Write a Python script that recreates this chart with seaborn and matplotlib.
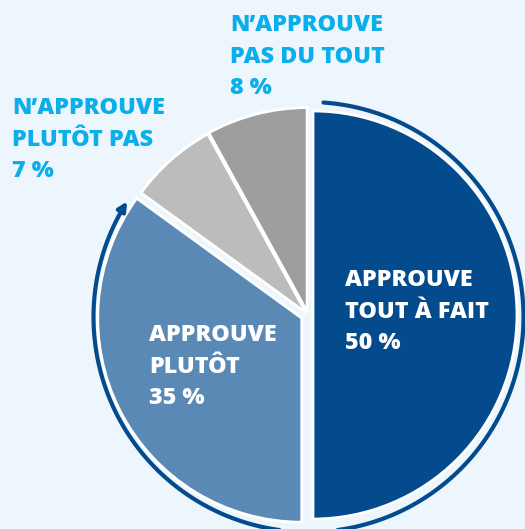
import numpy as np
import matplotlib.pyplot as plt
from matplotlib.path import Path
from matplotlib.patches import FancyArrowPatch
import seaborn as sns

# survey answers, clockwise from 12 o'clock
answers = ["APPROUVE\nTOUT À FAIT", "APPROUVE\nPLUTÔT",
           "N’APPROUVE\nPLUTÔT PAS", "N’APPROUVE\nPAS DU TOUT"]
shares = [50, 35, 7, 8]
slice_colors = ["#034b8c", "#5a89b6", "#bcbcbc", "#9e9e9e"]

BG = "#eef6fd"
DARK = "#034b8c"
CYAN = "#0aaeea"
W, H = 525, 529

sns.set_theme(style="white", rc={"figure.facecolor": BG, "axes.facecolor": BG})
plt.rcParams["font.family"] = ["Open Sans", "DejaVu Sans"]

fig = plt.figure(figsize=(W / 100, H / 100), dpi=100)
ax = fig.add_axes([0, 0, 1, 1])

R = 204
cx, cy = 308, H - 315
# explode is in data units (pixels here)
ax.pie(shares, colors=slice_colors, startangle=90, counterclock=False,
       radius=R, center=(cx, cy), explode=[5, 7, 3, 3.5],
       wedgeprops=dict(edgecolor="white", linewidth=2), frame=True)

# arrow around the "approve" share
r_arc = 215
theta = np.radians(np.linspace(86, -212.5, 200))
pts = np.column_stack([308.5 + r_arc * np.cos(theta), (H - 317) + r_arc * np.sin(theta)])
arrow = FancyArrowPatch(path=Path(pts), arrowstyle="-|>", mutation_scale=13,
                        color=DARK, lw=3, shrinkA=0, shrinkB=0)
ax.add_patch(arrow)

ax.set_xlim(0, W)
ax.set_ylim(0, H)
ax.axis("off")

label_pos = [(345, 268, "white"), (149, 323, "white"),
             (12, 96, CYAN), (230, 13, CYAN)]
for text, val, (x, y, col) in zip(answers, shares, label_pos):
    ax.text(x, H - y, f"{text}\n{val} %", color=col, fontsize=16.8,
            fontweight="heavy", ha="left", va="top", linespacing=1.42)

fig.savefig("out.png", dpi=100, facecolor=BG)
